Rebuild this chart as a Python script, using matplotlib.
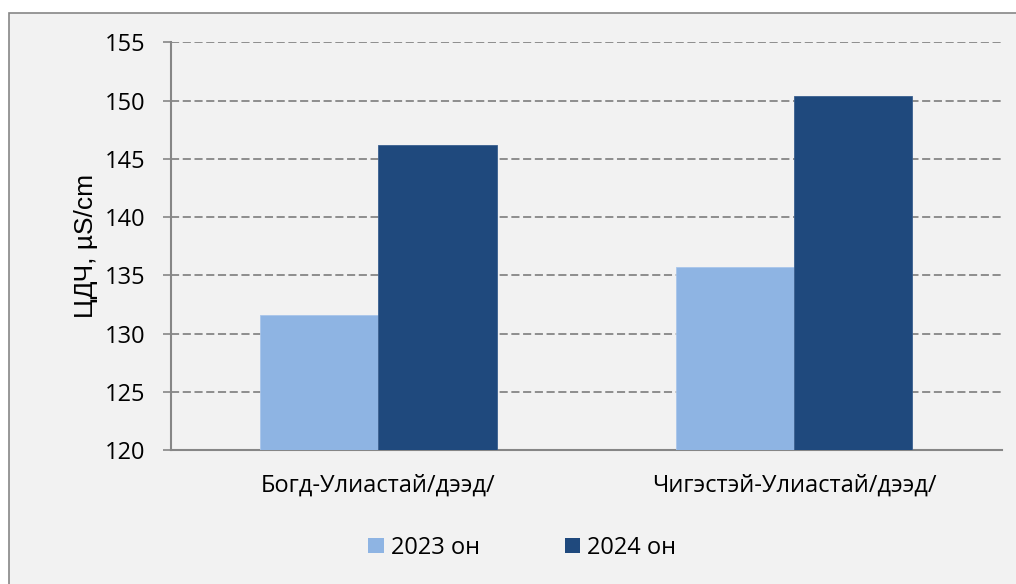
"""Bar chart: ЦДЧ (electrical conductivity) 2023 vs 2024."""
import matplotlib
matplotlib.use("Agg")
import matplotlib.pyplot as plt
from matplotlib.patches import Rectangle, Patch
import numpy as np

categories = ["Богд-Улиастай/дээд/", "Чигэстэй-Улиастай/дээд/"]
series_names = ["2023 он", "2024 он"]
values_2023 = [131.6, 135.7]
values_2024 = [146.2, 150.4]
colors = ["#8eb4e3", "#1f497d"]
yticks = [120, 125, 130, 135, 140, 145, 150, 155]

GRID = "#868686"
BG = "#f2f2f2"

plt.rcParams["font.family"] = ["Open Sans", "DejaVu Sans"]

fig = plt.figure(figsize=(10.16, 5.84), dpi=100, facecolor="white")
# chart area with frame (only top/left edges visible in the crop)
fig.patches.append(Rectangle((9 / 1016, -0.1), 1.2, 1.1 - 13 / 584,
                             transform=fig.transFigure, facecolor=BG,
                             edgecolor=GRID, linewidth=1.2, zorder=-10))

ax = fig.add_axes([0.168, 0.2295, 0.818, 0.698])
ax.set_facecolor(BG)

x = np.arange(len(categories))
w = 0.285
ax.bar(x - w / 2, values_2023, w, color=colors[0], edgecolor="#a9c5ea",
       linewidth=0.6, zorder=3)
ax.bar(x + w / 2, values_2024, w, color=colors[1], edgecolor="#3a5f8f",
       linewidth=0.6, zorder=3)

ax.set_xlim(-0.5, 1.5)
ax.set_ylim(120, 155)
ax.set_yticks(yticks)
ax.set_xticks(x)
ax.set_xticklabels(categories)
ax.tick_params(axis="x", length=0, pad=17, labelsize=17)
ax.tick_params(axis="y", length=6, width=1.2, color=GRID, pad=12, labelsize=17)

for t in yticks[1:]:
    ax.axhline(t, color=GRID, linestyle=(0, (4.5, 2)), linewidth=1.3, zorder=1)

for s in ["top", "right"]:
    ax.spines[s].set_visible(False)
for s in ["left", "bottom"]:
    ax.spines[s].set_color(GRID)
    ax.spines[s].set_linewidth(1.5)

ax.set_ylabel("ЦДЧ, µS/cm", fontsize=19, family=["Liberation Sans", "DejaVu Sans"])
ax.yaxis.set_label_coords(-0.087, 0.5)

handles = [Patch(facecolor=c, edgecolor="none") for c in colors]
fig.legend(handles, series_names, loc="center", bbox_to_anchor=(0.514, 0.062),
           ncol=2, frameon=False, fontsize=17, handlelength=0.65,
           handleheight=0.65, handletextpad=0.3, columnspacing=3.6)

fig.savefig("out.png", dpi=100, facecolor=fig.get_facecolor())
